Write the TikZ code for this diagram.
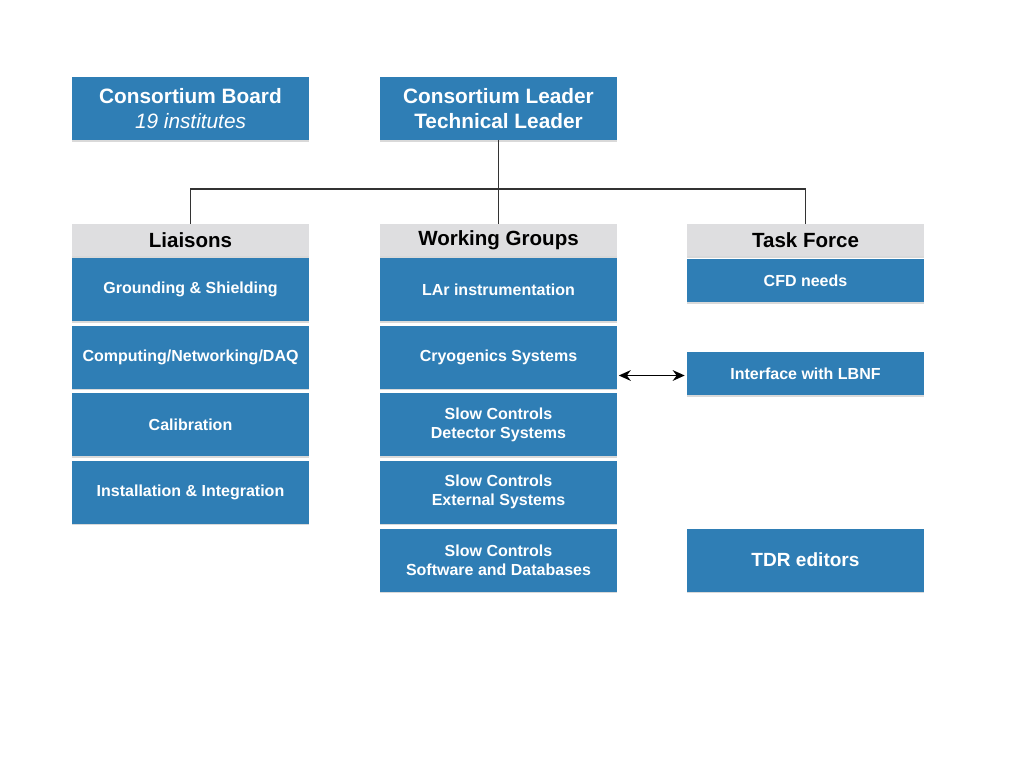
\documentclass[tikz,border=0pt]{standalone}
\usepackage{fontspec}
\setmainfont{Liberation Sans}
\usetikzlibrary{shadows,arrows.meta}
\definecolor{boxblue}{HTML}{2F7EB5}
\definecolor{headgray}{HTML}{DEDEE0}
\definecolor{linegray}{HTML}{333333}
\begin{document}
\begin{tikzpicture}[x=0.75pt, y=-0.75pt,
  bluebox/.style={shape=rectangle, fill=boxblue, text=white, minimum width=177.75pt, minimum height=47.25pt, align=center, inner sep=0pt, font=\bfseries\fontsize{12}{14.4}\selectfont, drop shadow={shadow xshift=0pt, shadow yshift=-1.2pt, opacity=0.3}},
  topbox/.style={bluebox, font=\bfseries\fontsize{15.6}{18.8}\selectfont},
  shortbox/.style={bluebox, minimum height=32.25pt},
  headbox/.style={shape=rectangle, fill=headgray, text=black, minimum width=177.75pt, minimum height=24pt, inner sep=0pt, font=\bfseries\fontsize{15.4}{18}\selectfont, drop shadow={shadow xshift=0pt, shadow yshift=-1.2pt, opacity=0.3}},
  wire/.style={draw=linegray, line width=0.8pt}]
\useasboundingbox (0,0) rectangle (1024,768);
% top row
\node[topbox] (board) at (190.5,108.5) {Consortium Board\\{\mdseries\itshape 19 institutes}};
\node[topbox] (leader) at (498.5,108.5) {Consortium Leader\\Technical Leader};
% headers
\node[headbox] (lia) at (190.5,240) {Liaisons};
\node[headbox] (wg) at (498.5,240) {Working Groups};
\node[headbox] (tf) at (805.5,240) {Task Force};
% liaisons
\node[bluebox] (lia1) at (190.5,289.5) {Grounding \& Shielding};
\node[bluebox] (lia2) at (190.5,357) {Computing/Networking/DAQ};
\node[bluebox] (lia3) at (190.5,424.5) {Calibration};
\node[bluebox] (lia4) at (190.5,492) {Installation \& Integration};
% working groups
\node[bluebox] (wg1) at (498.5,289.5) {LAr instrumentation};
\node[bluebox] (wg2) at (498.5,357) {Cryogenics Systems};
\node[bluebox] (wg3) at (498.5,424.5) {Slow Controls\\Detector Systems};
\node[bluebox] (wg4) at (498.5,492) {Slow Controls\\External Systems};
\node[bluebox] (wg5) at (498.5,560) {Slow Controls\\Software and Databases};
% task force
\node[shortbox] (cfd) at (805.5,280.5) {CFD needs};
\node[shortbox] (lbnf) at (805.5,373.5) {Interface with LBNF};
\node[bluebox, font=\bfseries\fontsize{14.3}{17}\selectfont] (tdr) at (805.5,560) {TDR editors};
% connectors
\coordinate (bus) at (498.5,189);
\path[wire] (leader.south) -- (wg.north);
\path[wire] (lia.north) |- (bus) -| (tf.north);
\path[wire, line width=1.3pt, {Stealth[length=9pt,width=8pt]}-{Stealth[length=9pt,width=8pt]}, draw=black] (wg2.east |- lbnf.west) ++(1.5,2) -- ([xshift=-1.5pt, yshift=-1.5pt]lbnf.west);
\end{tikzpicture}
\end{document}
